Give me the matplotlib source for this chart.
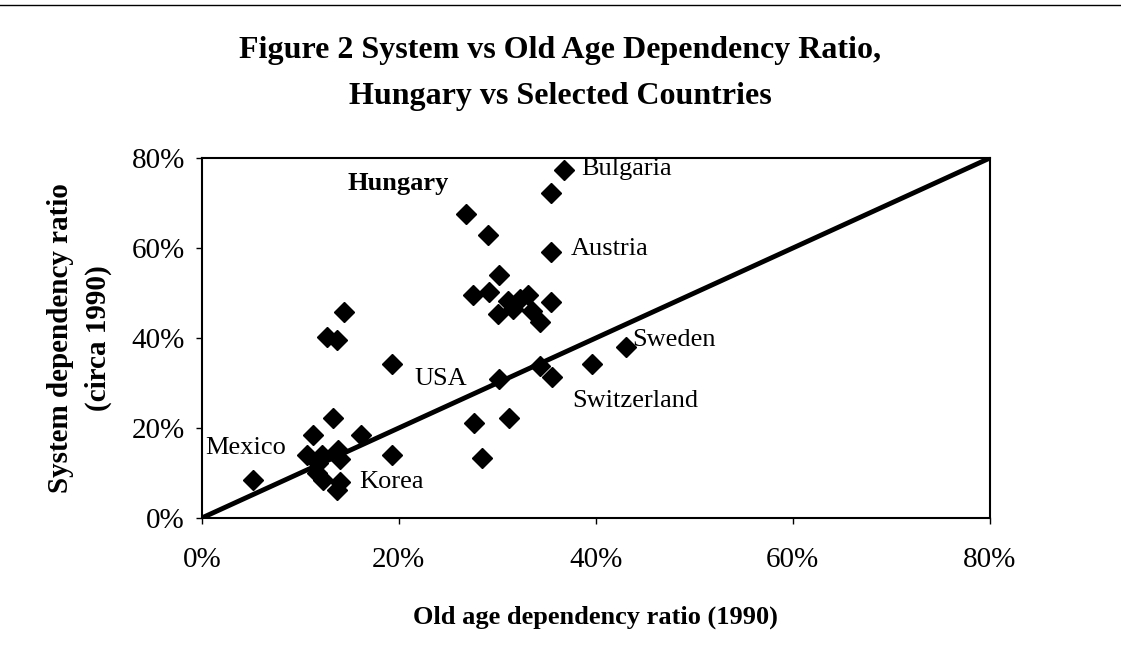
import matplotlib.pyplot as plt
from matplotlib.ticker import PercentFormatter
from matplotlib.lines import Line2D

plt.rcParams['font.family'] = ['Liberation Serif', 'DejaVu Serif']

# old age dependency ratio (%), system dependency ratio (%)
old_age = [26.8, 29.1, 36.8, 35.5, 35.5, 30.2, 27.5, 29.2, 31.1, 32.3,
           33.1, 30.1, 31.6, 33.5, 34.3, 35.5, 43.1, 39.6, 34.3, 35.6,
           30.2, 27.6, 31.2, 28.4, 14.4, 12.7, 13.7, 19.3, 13.3, 11.3,
           16.2, 19.3, 10.7, 13.8, 12.2, 14.0, 11.8, 11.7, 12.3, 13.7,
           14.0, 5.2]
system = [67.5, 63.0, 77.3, 72.2, 59.2, 54.1, 49.5, 50.3, 48.3, 48.7,
          49.6, 45.4, 46.5, 46.0, 43.6, 48.0, 38.0, 34.2, 33.7, 31.3,
          30.8, 21.2, 22.3, 13.4, 45.8, 40.2, 39.6, 34.2, 22.3, 18.5,
          18.5, 13.9, 14.0, 15.0, 14.0, 13.0, 12.3, 10.0, 8.5, 6.3,
          8.0, 8.5]

# label text, x, y, bold
labels = [("Hungary", 14.8, 74.4, True),
          ("Bulgaria", 38.5, 77.5, False),
          ("Austria", 37.5, 59.7, False),
          ("Sweden", 43.7, 39.6, False),
          ("USA", 21.6, 30.8, False),
          ("Switzerland", 37.6, 25.9, False),
          ("Mexico", 0.3, 15.6, False),
          ("Korea", 16.0, 8.0, False)]

fig = plt.figure(figsize=(11.21, 6.58), dpi=100)
ax = fig.add_axes([0.180, 0.2128, 0.703, 0.547])

ax.plot([0, 80], [0, 80], color='black', lw=3.5, zorder=2)
ax.plot(old_age, system, 'D', color='black', ms=10, zorder=3)

for txt, x, y, b in labels:
    ax.text(x, y, txt, fontsize=19, fontweight='bold' if b else 'normal',
            ha='left', va='center', zorder=4)

ax.set_xlim(0, 80)
ax.set_ylim(0, 80)
ax.set_xticks([0, 20, 40, 60, 80])
ax.set_yticks([0, 20, 40, 60, 80])
ax.xaxis.set_major_formatter(PercentFormatter(decimals=0))
ax.yaxis.set_major_formatter(PercentFormatter(decimals=0))
ax.tick_params(labelsize=21, length=4, width=1, direction='out')
ax.tick_params(axis='x', pad=17)
ax.tick_params(axis='y', pad=8)
for s in ax.spines.values():
    s.set_linewidth(1.5)

ax.set_xlabel('Old age dependency ratio (1990)', fontsize=19,
              fontweight='bold', labelpad=23)
ax.set_ylabel('System dependency ratio\n(circa 1990)', fontsize=21,
              fontweight='bold', labelpad=14, linespacing=1.5)

fig.text(0.5, 0.888, 'Figure 2 System vs Old Age Dependency Ratio,\nHungary vs Selected Countries',
         ha='center', va='center', fontsize=23, fontweight='bold', linespacing=1.75)

# page edge from the scan
fig.add_artist(Line2D([0, 1], [0.992, 0.992], color='black', lw=1))

fig.savefig('out.png', dpi=100)
